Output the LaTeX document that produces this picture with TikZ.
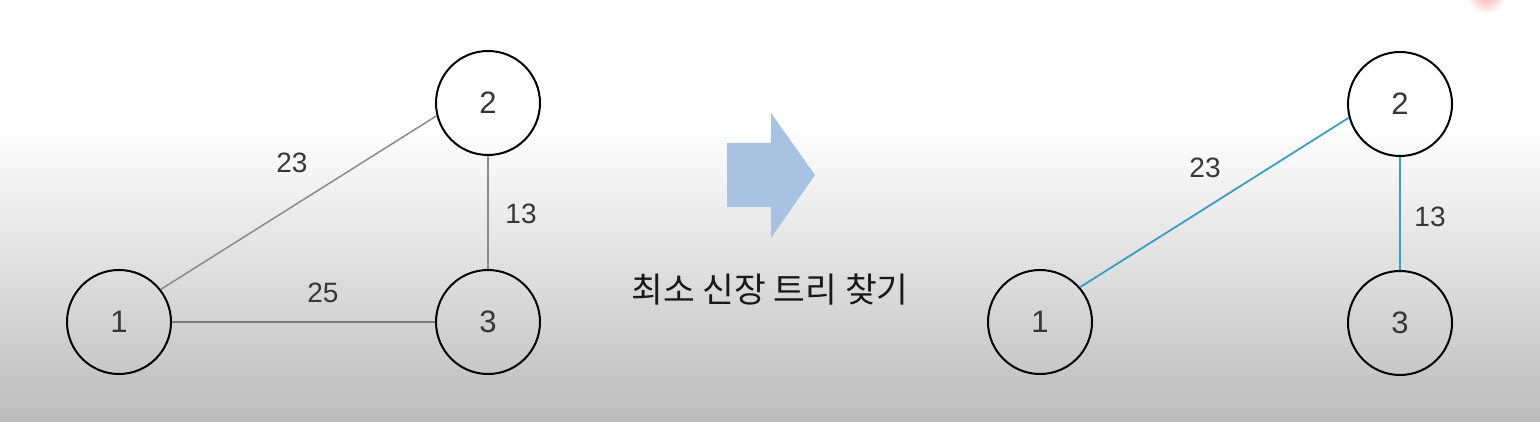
\documentclass[tikz,border=0pt]{standalone}
\usepackage{fontspec}
\setmainfont{Liberation Sans}
\newfontfamily\krfont{Noto Sans CJK KR}
\definecolor{edgegray}{RGB}{138,138,138}
\definecolor{mstblue}{RGB}{58,158,196}
\definecolor{arrowblue}{RGB}{168,194,226}
\definecolor{labelgray}{RGB}{55,55,55}
\definecolor{bggray}{RGB}{188,188,188}
\begin{document}
\begin{tikzpicture}[x=1pt,y=-1pt,
  vertex/.style={circle,draw=black,line width=2pt,minimum size=104pt,inner sep=0pt,
    font=\fontsize{31}{31}\selectfont,text=labelgray},
  weight/.style={font=\fontsize{28}{28}\selectfont,text=labelgray,inner sep=0pt},
  plainedge/.style={draw=edgegray,line width=1.5pt},
  treeedge/.style={draw=mstblue,line width=1.8pt}]
% background
\useasboundingbox (0,0) rectangle (1540,422);
\fill[white] (0,0) rectangle (1540,128);
\shade[top color=white,bottom color=bggray] (0,127) rectangle (1540,422);
\shade[inner color=red!35,outer color=white] (1486,-6) circle (20);
% left graph
\node[vertex] (a1) at (119,322) {1};
\node[vertex] (a2) at (488,103) {2};
\node[vertex] (a3) at (488,322) {3};
\draw[plainedge] (a1.38) -- (a2.194);
\draw[plainedge] (a2) -- (a3);
\draw[plainedge,line width=2.2pt,draw=edgegray!90!black] (a1) -- (a3);
\node[weight] (w12) at (292,163) {23};
\node[weight] (w23) at (521,214) {13};
\node[weight] (w13) at (323,293) {25};
% arrow
\fill[arrowblue] (727,143) -- (771,143) -- (771,113) -- (815,175) -- (771,238) -- (771,207) -- (727,207) -- cycle;
\node[font=\krfont\fontsize{34.5}{34.5}\selectfont,text=black!90,inner sep=0pt] (title) at (770,290) {최소 신장 트리 찾기};
% right graph
\node[vertex] (b1) at (1040,322) {1};
\node[vertex] (b2) at (1400,104) {2};
\node[vertex] (b3) at (1400,323) {3};
\draw[treeedge] (b1.41) -- (b2.195);
\draw[treeedge] (b2) -- (b3);
\node[weight] (v12) at (1205,168) {23};
\node[weight] (v23) at (1430,217) {13};
\end{tikzpicture}
\end{document}
